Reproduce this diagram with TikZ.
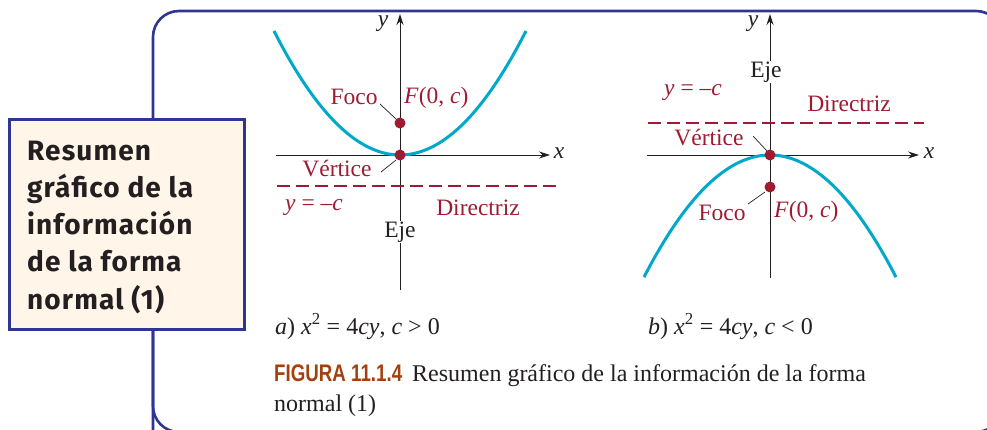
\documentclass[tikz,border=0pt]{standalone}
\usepackage{fontspec}
\setmainfont{Liberation Serif}
\newfontfamily\boxfont[LetterSpace=4]{Fira Sans}
\newfontfamily\figfont[FakeStretch=0.78]{Liberation Sans}
\usetikzlibrary{arrows.meta}
\definecolor{frameblue}{HTML}{2E3592}
\definecolor{cream}{HTML}{FFF5E9}
\definecolor{curvecyan}{HTML}{00A8CA}
\definecolor{darkred}{HTML}{9E1B32}
\definecolor{rust}{HTML}{A3410E}
\definecolor{ink}{HTML}{231F20}
\tikzset{
  axis/.style={draw=ink, line width=0.9pt, -{Stealth[length=11pt,width=7pt]}},
  curve/.style={draw=curvecyan, line width=3pt},
  directrix/.style={draw=darkred, line width=1.1pt, dash pattern=on 13pt off 6pt},
  dot/.style={circle, fill=darkred, inner sep=0pt, minimum size=11pt},
  lbl/.style={font=\fontsize{23.5}{26}\selectfont, text=darkred, inner sep=1pt},
  blk/.style={font=\fontsize{23.5}{26}\selectfont, text=ink, inner sep=1pt},
  leader/.style={draw=ink, line width=0.7pt},
  captext/.style={font=\fontsize{24}{26}\selectfont, text=ink, inner sep=0pt, anchor=base west},
  boxline/.style={font=\boxfont\bfseries\fontsize{28}{30}\selectfont, text=ink, inner sep=0pt, anchor=base west},
}
\begin{document}
\begin{tikzpicture}[x=1pt,y=-1pt]
\useasboundingbox (0,0) rectangle (987,430);
% frame
\begin{scope}
\clip (0,0) rectangle (987,430);
\draw[frameblue, line width=2.6pt, rounded corners=26pt] (153,480) -- (153,11) -- (1002,11) -- (1002,480);
\draw[frameblue, line width=2.6pt, rounded corners=26pt] (153,300) -- (153,432) -- (1002,432) -- (1002,300);
\end{scope}
% side box
\node[draw=frameblue, fill=cream, line width=2.6pt, minimum width=235pt, minimum height=210pt, anchor=north west, inner sep=0pt] (box) at (8,118) {};
\node[boxline] (bt1) at (27,161) {Resumen};
\node[boxline] (bt2) at (27,198) {gráfico de la};
\node[boxline] (bt3) at (27,235) {información};
\node[boxline] (bt4) at (27,272) {de la forma};
\node[boxline] (bt5) at (27,309) {normal (1)};

% ---------- graph a ----------
\coordinate (ya0) at (400,290);
\coordinate (ya1) at (400,14);
\coordinate (xa0) at (276,155);
\coordinate (xa1) at (550,155);
\draw[axis] (ya0) -- (ya1);
\draw[axis] (xa0) -- (xa1);
\node[blk, font=\itshape\fontsize{23.5}{26}\selectfont] (ya) at (383,24) {y};
\node[blk, font=\itshape\fontsize{23.5}{26}\selectfont] (xa) at (559,153) {x};
\draw[curve, domain=-126:126, samples=80] plot ({400+\x}, {155-(\x/10)*(\x/10)*100/128});
\coordinate (da0) at (277,186);
\coordinate (da1) at (556,186);
\draw[directrix] (da0) -- (da1);
\node[dot] (Va) at (400,155) {};
\node[dot] (Fa) at (400,123) {};
\node[lbl] (focoa) at (354,97) {Foco};
\node[lbl, anchor=west] (Fla) at (403,98) {\textit{F}(0, \textit{c})};
\node[lbl] (verta) at (337,169) {Vértice};
\node[lbl] (eqa) at (314,207) {\textit{y} = –\textit{c}};
\node[lbl] (dira) at (478,208) {Directriz};
\node[blk, fill=white, inner sep=1pt] (ejea) at (400,232) {Eje};
\coordinate (la1) at (380,104);
\coordinate (la2) at (396,119);
\draw[leader] (la1) -- (la2);
\coordinate (la3) at (381,172);
\coordinate (la4) at (396,160);
\draw[leader] (la3) -- (la4);

% ---------- graph b ----------
\coordinate (yb0) at (770,278);
\coordinate (yb1) at (770,14);
\coordinate (xb0) at (647,155);
\coordinate (xb1) at (919,155);
\draw[axis] (yb0) -- (yb1);
\draw[axis] (xb0) -- (xb1);
\node[blk, font=\itshape\fontsize{23.5}{26}\selectfont] (yb) at (753,24) {y};
\node[blk, font=\itshape\fontsize{23.5}{26}\selectfont] (xb) at (929,153) {x};
\node[blk, fill=white, inner sep=1pt] (ejeb) at (766,72) {Eje};
\coordinate (db0) at (648,123);
\coordinate (db1) at (924,123);
\draw[directrix] (db0) -- (db1);
\draw[curve, domain=-126:126, samples=80] plot ({770+\x}, {155+(\x/10)*(\x/10)*100/130});
\node[dot] (Vb) at (770,155) {};
\node[dot] (Fb) at (770,187) {};
\node[lbl] (eqb) at (693,93) {\textit{y} = –\textit{c}};
\node[lbl] (dirb) at (849,104) {Directriz};
\node[lbl] (vertb) at (709,138) {Vértice};
\node[lbl] (focob) at (722,213) {Foco};
\node[lbl, anchor=west] (Flb) at (773,212) {\textit{F}(0, \textit{c})};
\coordinate (lb1) at (753,136);
\coordinate (lb2) at (767,151);
\draw[leader] (lb1) -- (lb2);
\coordinate (lb3) at (748,204);
\coordinate (lb4) at (765,192);
\draw[leader] (lb3) -- (lb4);

% ---------- captions ----------
\node[captext] (capa) at (275,334) {\textit{a}) \textit{x}\textsuperscript{2} = 4\textit{cy}, \textit{c} > 0};
\node[captext] (capb) at (648,334) {\textit{b}) \textit{x}\textsuperscript{2} = 4\textit{cy}, \textit{c} < 0};
\node[captext] (fig1) at (274,381) {{\figfont\bfseries\color{rust}FIGURA 11.1.4}\hspace{10pt}Resumen gráfico de la información de la forma};
\node[captext] (fig2) at (274,411) {normal (1)};
\end{tikzpicture}
\end{document}
